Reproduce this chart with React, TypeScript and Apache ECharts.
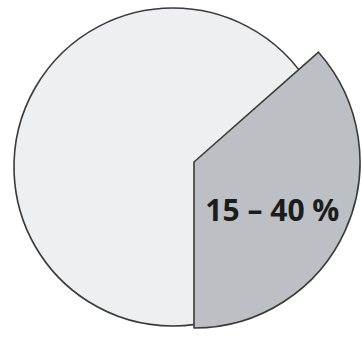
import React, { useEffect, useRef } from "react";
import * as echarts from "echarts";

const categories = ["Anteil", "Rest"];
const shares = [36.5, 63.5];
const sliceLabels = ["15 – 40 %", ""];

export default function App() {
  const ref = useRef<HTMLDivElement>(null);
  useEffect(() => {
    if (!ref.current) return;
    const chart = echarts.init(ref.current, undefined, { renderer: "svg" });
    const total = shares.reduce((a, b) => a + b, 0);
    chart.setOption({
      animation: false,
      backgroundColor: "#ffffff",
      series: [
        {
          type: "pie",
          silent: true,
          center: [173, 167],
          radius: 159,
          label: { show: false },
          labelLine: { show: false },
          itemStyle: { color: "#eeeff0", borderColor: "#3a3a3a", borderWidth: 1.6 },
          data: [{ name: "Gesamt", value: total }],
        },
        {
          type: "pie",
          silent: true,
          center: [194, 162],
          radius: 166,
          startAngle: 41.4,
          clockwise: true,
          labelLine: { show: false },
          data: categories.map((c, i) => ({
            name: c,
            value: shares[i],
            itemStyle:
              i === 0
                ? { color: "#bcc0c4", borderColor: "#3a3a3a", borderWidth: 1.6 }
                : { color: "rgba(0,0,0,0)", borderWidth: 0 },
            label:
              i === 0
                ? {
                    show: true,
                    position: "inside",
                    formatter: "\n" + sliceLabels[i],
                    fontFamily: "Open Sans",
                    fontWeight: "bold",
                    fontSize: 30,
                    lineHeight: 24,
                    color: "#1c1c1c",
                  }
                : { show: false },
          })),
        },
      ],
    });
    return () => chart.dispose();
  }, []);
  return (
    <div
      ref={ref}
      style={{ position: "fixed", left: 0, top: 0, width: 362, height: 348 }}
    />
  );
}
